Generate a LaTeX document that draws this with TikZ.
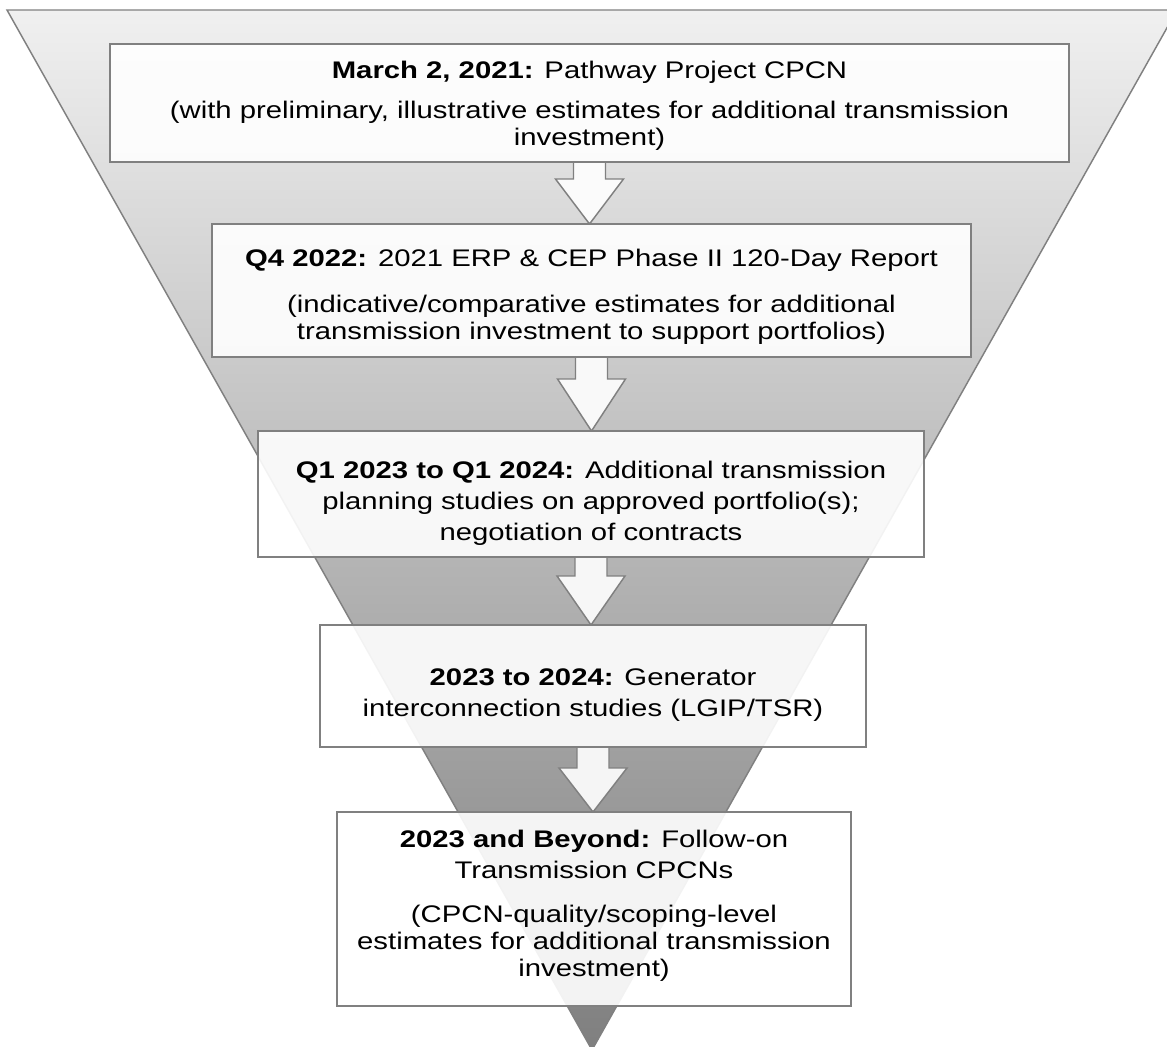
\documentclass[tikz,border=0pt]{standalone}
\usepackage{fontspec}
\setmainfont{Liberation Sans}[FakeStretch=1.22]
\usetikzlibrary{calc}
\definecolor{edge}{HTML}{808080}
\definecolor{ftop}{HTML}{F0F0F0}
\definecolor{fbot}{HTML}{7F7F7F}
\begin{document}
\begin{tikzpicture}[x=0.75pt,y=-0.75pt,
  stagebox/.style={draw=edge, line width=1.1pt, fill=white, fill opacity=0.9, inner sep=0pt},
  stagetext/.style={align=center, inner sep=0pt, font=\fontsize{18}{20.25}\selectfont},
  blockarrow/.style={draw=edge, line width=1.1pt, fill=white, fill opacity=0.9, line join=miter}]
\clip (0,0) rectangle (1167,1046);
\fill[white] (0,0) rectangle (1167,1046);
% funnel
\draw[edge, line width=1.1pt, top color=ftop, bottom color=fbot]
  (7,10) -- (1177,10) -- (592,1050) -- cycle;
% block arrows
\coordinate (t1) at (589.5,162);
\coordinate (t2) at (591.5,357);
\coordinate (t3) at (591,557);
\coordinate (t4) at (593,747);
\draw[blockarrow] ($(t1)+(-16,0)$) -- ++(0,17) -- ++(-18,0) -- ($(t1)+(0,62)$)
  -- ($(t1)+(34,17)$) -- ++(-18,0) -- ++(0,-17);
\draw[blockarrow] ($(t2)+(-16,0)$) -- ++(0,22) -- ++(-18,0) -- ($(t2)+(0,74)$)
  -- ($(t2)+(34,22)$) -- ++(-18,0) -- ++(0,-22);
\draw[blockarrow] ($(t3)+(-16,0)$) -- ++(0,19) -- ++(-18,0) -- ($(t3)+(0,68)$)
  -- ($(t3)+(34,19)$) -- ++(-18,0) -- ++(0,-19);
\draw[blockarrow] ($(t4)+(-16,0)$) -- ++(0,21) -- ++(-18,0) -- ($(t4)+(0,65)$)
  -- ($(t4)+(34,21)$) -- ++(-18,0) -- ++(0,-21);
% stage boxes
\node[stagebox, minimum width=719.25pt, minimum height=88.5pt] (s1) at (589.5,103) {};
\node[stagebox, minimum width=569.25pt, minimum height=99.75pt] (s2) at (591.5,290.5) {};
\node[stagebox, minimum width=499.5pt, minimum height=94.5pt] (s3) at (591,494) {};
\node[stagebox, minimum width=409.5pt, minimum height=91.5pt] (s4) at (593,686) {};
\node[stagebox, minimum width=385.5pt, minimum height=145.5pt] (s5) at (594,909) {};
% stage texts
\node[stagetext] (s1t) at ($(s1.center)+(0,3)$)
  {\textbf{March 2, 2021:} Pathway Project CPCN\\[10pt](with preliminary, illustrative estimates for additional transmission\\investment)};
\node[stagetext] (s2t) at ($(s2.center)+(0,6)$)
  {\textbf{Q4 2022:} 2021 ERP \& CEP Phase II 120-Day Report\\[14pt](indicative/comparative estimates for additional\\transmission investment to support portfolios)};
\node[stagetext] (s3t) at ($(s3.center)+(0,9)$)
  {\textbf{Q1 2023 to Q1 2024:} Additional transmission\\[3pt]planning studies on approved portfolio(s);\\[3pt]negotiation of contracts};
\node[stagetext] (s4t) at ($(s4.center)+(0,9)$)
  {\textbf{2023 to 2024:} Generator\\[2.5pt]interconnection studies (LGIP/TSR)};
\node[stagetext] (s5t) at ($(s5.center)+(0,-3)$)
  {\textbf{2023 and Beyond:} Follow-on\\[3pt]Transmission CPCNs\\[12.5pt](CPCN-quality/scoping-level\\estimates for additional transmission\\investment)};
\end{tikzpicture}
\end{document}
